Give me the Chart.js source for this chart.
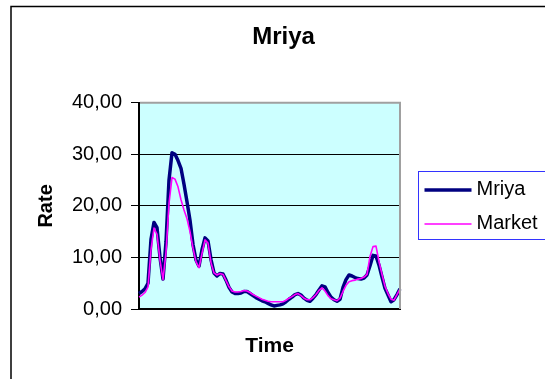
<!DOCTYPE html>
<html><head><meta charset="utf-8">
<script src="https://cdn.jsdelivr.net/npm/chart.js@4.4.1/dist/chart.umd.min.js"></script>
<style>html,body{margin:0;padding:0;background:#fff;overflow:hidden}canvas{display:block}</style>
</head><body>
<canvas id="c" width="545" height="379"></canvas>
<script>
const chartTitle = 'Mriya';
const xTitle = 'Time';
const yTitle = 'Rate';
const seriesNames = ['Mriya', 'Market'];
const mriya = [
  3.0, 3.4, 3.9, 5.0, 13.5, 16.8, 15.8, 10.0, 5.8, 13.0,
  25.0, 30.3, 30.0, 28.8, 27.3, 24.2, 20.8, 17.2, 12.5, 9.5,
  8.3, 11.5, 13.8, 13.2, 9.6, 7.0, 6.4, 6.9, 6.8, 5.6,
  4.2, 3.3, 3.0, 3.0, 3.1, 3.4, 3.4, 3.0, 2.6, 2.2,
  1.9, 1.6, 1.4, 1.1, 0.8, 0.6, 0.7, 0.8, 1.0, 1.4,
  1.9, 2.3, 2.8, 3.0, 2.7, 2.1, 1.7, 1.5, 2.1, 2.8,
  3.7, 4.5, 4.3, 3.2, 2.3, 1.8, 1.5, 1.9, 4.2, 5.7,
  6.6, 6.4, 6.1, 5.9, 5.8, 6.0, 6.6, 8.4, 10.4, 10.3,
  8.5, 6.2, 4.0, 2.7, 1.4, 1.8, 2.8, 3.9
];
const market = [
  2.3, 2.7, 3.2, 4.3, 11.5, 15.7, 14.5, 9.5, 5.7, 11.0,
  20.5, 25.5, 25.2, 23.7, 21.2, 19.2, 17.5, 15.0, 11.8, 9.2,
  8.0, 10.8, 13.4, 12.8, 9.0, 7.0, 6.6, 6.9, 6.7, 5.5,
  4.3, 3.5, 3.3, 3.3, 3.4, 3.6, 3.5, 3.2, 2.8, 2.5,
  2.2, 1.9, 1.7, 1.5, 1.4, 1.4, 1.4, 1.4, 1.4, 1.7,
  2.1, 2.4, 2.8, 3.0, 2.6, 2.1, 1.8, 1.8, 2.2, 2.8,
  3.6, 4.1, 3.5, 2.6, 2.0, 1.8, 1.6, 2.1, 3.4, 4.6,
  5.3, 5.5, 5.6, 5.8, 5.9, 6.2, 6.7, 10.2, 12.1, 12.2,
  9.2, 6.7, 4.4, 3.0, 1.9, 1.7, 2.8, 3.9
];
const categories = mriya.map((_, i) => String(i + 1));
const yTicks = [0, 10, 20, 30, 40];
const yTickLabels = ['0,00', '10,00', '20,00', '30,00', '40,00'];

const FONT = "'Liberation Sans', Arial, Helvetica, sans-serif";
Chart.defaults.font.family = FONT;
Chart.defaults.color = '#000';

const decor = {
  id: 'decor',
  beforeDraw(chart) {
    const {ctx, chartArea: a} = chart;
    ctx.save();
    ctx.fillStyle = '#fff';
    ctx.fillRect(0, 0, chart.width, chart.height);
    // outer frame
    ctx.strokeStyle = '#000';
    ctx.lineWidth = 1.5;
    ctx.strokeRect(11, 6.5, chart.width + 20, chart.height + 20);
    // plot background
    ctx.fillStyle = '#CCFFFF';
    ctx.fillRect(a.left, a.top, a.right - a.left, a.bottom - a.top);
    ctx.restore();
  },
  afterDraw(chart) {
    const {ctx, chartArea: a} = chart;
    ctx.save();
    ctx.strokeStyle = '#A0A0A0';
    ctx.lineWidth = 2;
    ctx.beginPath();
    ctx.moveTo(a.left + 1, a.top);
    ctx.lineTo(a.right, a.top);
    ctx.lineTo(a.right, a.bottom);
    ctx.stroke();
    // legend
    const lx = a.right + 18.5, ly = 171.5;
    ctx.strokeStyle = '#3333FF';
    ctx.lineWidth = 1;
    ctx.strokeRect(lx, ly, 200, 68);
    ctx.font = '20px ' + FONT;
    ctx.textBaseline = 'middle';
    ctx.textAlign = 'left';
    chart.data.datasets.forEach((ds, i) => {
      const y = 190 + 34 * i;
      ctx.strokeStyle = ds.borderColor;
      ctx.lineWidth = ds.borderWidth;
      ctx.beginPath();
      ctx.moveTo(lx + 6, y);
      ctx.lineTo(lx + 53, y);
      ctx.stroke();
      ctx.fillStyle = '#000';
      ctx.fillText(ds.label, lx + 58, y - 1);
    });
    ctx.restore();
  }
};

new Chart(document.getElementById('c'), {
  type: 'line',
  data: {
    labels: categories,
    datasets: [
      { label: seriesNames[0], data: mriya, borderColor: '#000080', borderWidth: 3.5, pointRadius: 0, tension: 0, order: 1, borderJoinStyle: 'round', fill: false },
      { label: seriesNames[1], data: market, borderColor: '#FF00FF', borderWidth: 1.6, pointRadius: 0, tension: 0, order: 0, borderJoinStyle: 'round', fill: false }
    ]
  },
  options: {
    responsive: false,
    animation: false,
    devicePixelRatio: 1,
    layout: { padding: { left: 22, right: 0, top: 0, bottom: 0 } },
    plugins: {
      legend: { display: false },
      tooltip: { enabled: false },
      title: {
        display: true, text: chartTitle, color: '#000',
        font: { size: 24, weight: 'bold', family: FONT },
        padding: { top: 23, bottom: 51 }
      }
    },
    scales: {
      x: {
        type: 'category', offset: false,
        ticks: { display: false },
        grid: { display: false, drawTicks: false },
        border: { display: true, color: '#000', width: 2 },
        title: { display: true, text: xTitle, color: '#000', font: { size: 21, weight: 'bold', family: FONT }, padding: { top: 0, bottom: 20 } },
        afterFit(s) { s.height = 70; }
      },
      y: {
        position: 'left',
        min: 0, max: 40,
        afterBuildTicks(s) { s.ticks = yTicks.map(v => ({ value: v })); },
        ticks: { padding: 9, color: '#000', font: { size: 20, family: FONT }, callback: v => yTickLabels[yTicks.indexOf(v)] },
        grid: { color: c => (c.tick && c.tick.value === 40) ? 'rgba(0,0,0,0)' : '#000', tickColor: '#000', tickLength: 8, lineWidth: 1 },
        border: { display: true, color: '#000', width: 2 },
        title: { display: true, text: yTitle, color: '#000', font: { size: 20, weight: 'bold', family: FONT }, padding: { top: 12, bottom: 0 } },
        afterFit(s) { s.width = 117; }
      },
      yRight: {
        position: 'right',
        display: true,
        ticks: { display: false },
        grid: { display: false, drawTicks: false },
        border: { display: false },
        afterFit(s) { s.width = 145; }
      }
    }
  },
  plugins: [decor]
});
</script>
</body></html>
